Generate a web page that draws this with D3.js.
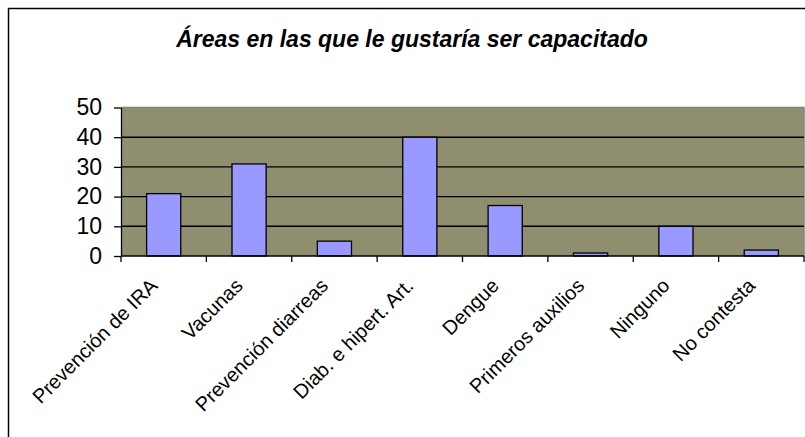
<!DOCTYPE html>
<html>
<head>
<meta charset="utf-8">
<script src="https://cdn.jsdelivr.net/npm/d3@7"></script>
<style>
html,body{margin:0;padding:0;background:#fff;}
svg{display:block;font-family:"Liberation Sans",Arial,sans-serif;}
</style>
</head>
<body>
<svg id="chart" width="805" height="437"></svg>
<script>
const title = "Áreas en las que le gustaría ser capacitado";
const categories = ["Prevención de IRA","Vacunas","Prevención diarreas","Diab. e hipert. Art.","Dengue","Primeros auxilios","Ninguno","No contesta"];
const values = [21, 31, 5, 40, 17, 1, 10, 2];
const yTicks = [0, 10, 20, 30, 40, 50];

const svg = d3.select("#chart");
const W = 805, H = 437;
const m = {left:121, right:804, top:107.5, bottom:256};

// outer frame
svg.append("rect").attr("x",8.5).attr("y",8.5).attr("width",W+20).attr("height",H+20)
  .attr("fill","#fff").attr("stroke","#000").attr("stroke-width",1.5);

const x = d3.scaleBand().domain(categories).range([m.left, m.right]).paddingInner(0.6).paddingOuter(0.3);
const y = d3.scaleLinear().domain([0,50]).range([m.bottom, m.top]);

// plot area
svg.append("rect").attr("x",m.left).attr("y",m.top).attr("width",m.right-m.left).attr("height",m.bottom-m.top)
  .attr("fill","#8f8f70");
svg.append("path").attr("d",`M${m.left},${m.top}H${m.right}V${m.bottom}`)
  .attr("fill","none").attr("stroke","#808080").attr("stroke-width",1.5);

// gridlines
svg.append("g").selectAll("line").data(yTicks.filter(d=>d>0 && d<50)).join("line")
  .attr("x1",m.left).attr("x2",m.right).attr("y1",d=>y(d)).attr("y2",d=>y(d))
  .attr("stroke","#000").attr("stroke-width",1.4);

// bars
svg.append("g").selectAll("rect").data(values).join("rect")
  .attr("x",(d,i)=>x(categories[i]))
  .attr("y",d=>y(d))
  .attr("width",x.bandwidth())
  .attr("height",d=>y(0)-y(d))
  .attr("fill","#9999ff").attr("stroke","#000").attr("stroke-width",1.3);

// y axis
const yAxis = d3.axisLeft(y).tickValues(yTicks).tickSize(7).tickPadding(12).tickSizeOuter(0);
const gy = svg.append("g").attr("transform",`translate(${m.left},0)`).call(yAxis);
gy.select(".domain").attr("stroke","#000").attr("stroke-width",1.3);
gy.selectAll(".tick line").attr("stroke","#000").attr("stroke-width",1.3);
gy.selectAll(".tick text").attr("font-size",23).attr("fill","#000")
  .attr("font-family","'Liberation Sans',Arial,sans-serif");

// x axis
const boundaries = d3.range(categories.length+1).map(i=>m.left + i*(m.right-m.left)/categories.length);
svg.append("line").attr("x1",m.left).attr("x2",m.right).attr("y1",m.bottom).attr("y2",m.bottom)
  .attr("stroke","#000").attr("stroke-width",1.3);
svg.append("g").selectAll("line").data(boundaries).join("line")
  .attr("x1",d=>d).attr("x2",d=>d).attr("y1",m.bottom).attr("y2",m.bottom+6)
  .attr("stroke","#000").attr("stroke-width",1.3);

svg.append("g").selectAll("text").data(categories).join("text")
  .attr("transform",d=>`translate(${x(d)+x.bandwidth()/2-10},${m.bottom+26}) rotate(-45)`)
  .attr("text-anchor","end").attr("dy","0.35em")
  .attr("font-size",20).attr("fill","#000")
  .text(d=>d);

// title
svg.append("text").attr("x",412).attr("y",47).attr("text-anchor","middle")
  .attr("font-size",23).attr("font-weight","bold").attr("font-style","italic").attr("fill","#000")
  .text(title);
</script>
</body>
</html>
